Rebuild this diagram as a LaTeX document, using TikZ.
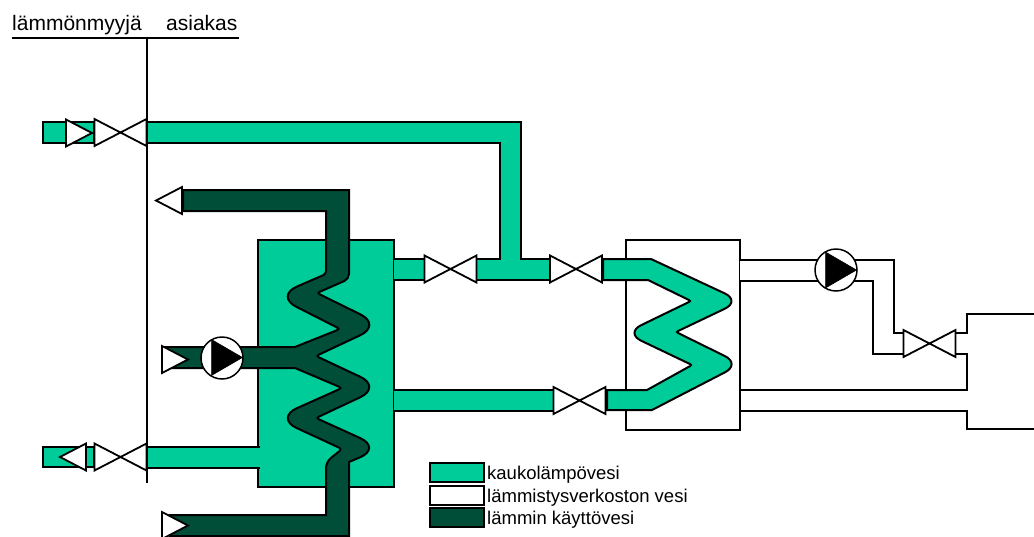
\documentclass[tikz,border=0pt]{standalone}
\usepackage{fontspec}
\setmainfont{Liberation Sans}
\usepackage{xcolor}
\definecolor{hotgreen}{RGB}{0,204,153}
\definecolor{tapgreen}{RGB}{0,77,56}
\usetikzlibrary{shapes.geometric, positioning, calc, backgrounds}
\tikzset{
  valvetri/.style={
    isosceles triangle, isosceles triangle stretches, draw=black, fill=white,
    line width=1.8pt, minimum width=27pt, minimum height=26pt,
    inner sep=0pt, outer sep=0pt
  },
  pumpbody/.style={
    circle, draw=black, fill=white, line width=1.5pt,
    minimum size=42pt, inner sep=0pt, outer sep=0pt
  },
  pumphead/.style={
    isosceles triangle, isosceles triangle stretches, draw=black, fill=black,
    line width=0.5pt, minimum width=36pt, minimum height=31pt,
    inner sep=0pt, outer sep=0pt
  },
  hexbox/.style={
    rectangle, draw=black, line width=2pt, inner sep=0pt, outer sep=0pt
  },
  hotpipe/.style={line width=2pt, double=hotgreen, double distance=19pt},
  coldpipe/.style={line width=2pt, double=white, double distance=19pt},
  wire/.style={line width=2pt, draw=black},
  legendkey/.style={
    rectangle, draw=black, line width=2pt, minimum width=54pt,
    minimum height=19pt, inner sep=0pt, outer sep=0pt
  },
  headtext/.style={font=\fontsize{21}{24}\selectfont, inner sep=0pt, anchor=base west},
  legendtext/.style={
    font=\fontsize{18.5}{20}\selectfont, inner sep=0pt,
    text height=13pt, text depth=4pt, yshift=-2pt
  },
}

\begin{document}
\begin{tikzpicture}[x=1pt, y=-1pt]
  \useasboundingbox (0,0) rectangle (1034,536);

  % valves
  \node (vaa) [valvetri, anchor=apex] at (120.5,132.5) {};
  \node (vab) [valvetri, shape border rotate=180, anchor=apex] at (120.5,132.5) {};
  \node (vba) [valvetri, anchor=apex] at (450.5,269) {};
  \node (vbb) [valvetri, shape border rotate=180, anchor=apex] at (450.5,269) {};
  \node (vca) [valvetri, anchor=apex] at (576,269) {};
  \node (vcb) [valvetri, shape border rotate=180, anchor=apex] at (576,269) {};
  \node (vda) [valvetri, anchor=apex] at (579.5,400.5) {};
  \node (vdb) [valvetri, shape border rotate=180, anchor=apex] at (579.5,400.5) {};
  \node (vea) [valvetri, anchor=apex] at (120.5,457) {};
  \node (veb) [valvetri, shape border rotate=180, anchor=apex] at (120.5,457) {};
  \node (vfa) [valvetri, anchor=apex] at (929.5,343.5) {};
  \node (vfb) [valvetri, shape border rotate=180, anchor=apex] at (929.5,343.5) {};

  % check valves
  \node (caa) [valvetri, anchor=apex] at (92,133) {};
  \node (cab) [valvetri, shape border rotate=180, anchor=apex] at (156,200.5) {};
  \node (cac) [valvetri, anchor=apex] at (188,359.5) {};
  \node (cad) [valvetri, shape border rotate=180, anchor=apex] at (60,457) {};
  \node (cae) [valvetri, anchor=apex] at (188,525.5) {};

  % pumps
  \node (pumpa) [pumpbody] at (222,358) {};
  \node (heada) [pumphead, anchor=apex] at (242.5,357.5) {};
  \node (pumpb) [pumpbody] at (836,270) {};
  \node (headb) [pumphead, anchor=apex] at (856.5,270) {};

  \coordinate (tee) at (510,269);
  \begin{pgfonlayer}{background}
    % exchangers
    \node (hexone) [hexbox, fill=hotgreen, minimum width=136pt, minimum height=247pt] at (326,363.5) {};
    \node (hextwo) [hexbox, fill=white, minimum width=114pt, minimum height=190pt] at (683,335) {};

    % pipes
    \draw [hotpipe] (vab.lower side) -| (tee)
          (vbb.lower side) -- (vca.lower side);
    \draw [hotpipe] (hexone.east |- vba.lower side) -- (vba.lower side);
    \draw [hotpipe] (hexone.east |- vda.lower side) -- (vda.lower side);
    \draw [hotpipe] (veb.lower side) -- ($(hexone.west |- veb.lower side)+(2,0)$);
    \draw [coldpipe] (hextwo.east |- pumpb) -- (883,270) |- (vfa.lower side);

    % stubs
    \draw [wire, fill=hotgreen] (43,122) rectangle (94,143);
    \draw [wire, fill=hotgreen] (43,447) rectangle (94,467);

    % hot water coil
    \draw [wire, fill=hotgreen]
      (603,259) -- (651,259) [rounded corners=18pt] -- (741,301)
      [rounded corners=2pt] -- (676,332) [rounded corners=18pt] -- (741,364)
      [sharp corners] -- (652,410) -- (607,410) -- (607,390) -- (647,390)
      [rounded corners=2pt] -- (692,365) [rounded corners=18pt] -- (625,333)
      [rounded corners=2pt] -- (691,301) [sharp corners] -- (648,280) -- (603,280) -- cycle;

    % tap water coil
    \draw [wire, fill=tapgreen]
      (183,190) -- (349,190) [rounded corners=5pt] -- (349,279)
      [rounded corners=3pt] -- (317,293) [rounded corners=24pt] -- (382,325)
      [rounded corners=3pt] -- (316,356) [rounded corners=24pt] -- (382,387)
      [rounded corners=3pt] -- (316,418) [rounded corners=24pt] -- (382,448)
      [sharp corners] -- (349,462) -- (349,536) -- (170,536) -- (170,515) -- (326,515)
      [rounded corners=6pt] -- (326,462) [rounded corners=3pt] -- (342,449)
      [rounded corners=24pt] -- (275,418) [rounded corners=3pt] -- (342,388)
      [sharp corners] -- (295,368) -- (165,368) -- (165,347) -- (295,347)
      [rounded corners=3pt] -- (340,329) [rounded corners=24pt] -- (275,296)
      [rounded corners=3pt] -- (326,274) [sharp corners] -- (326,211) -- (183,211) -- cycle;
  \end{pgfonlayer}

  % boundary
  \draw [wire] (12,38) -- (239,38);
  \draw [wire] (147,38) -- (147,483);

  % consumer side
  \draw [wire] (956,333) -- (967,333) -- (967,314) -- (1034,314);
  \draw [wire] (956,354) -- (967,354) -- (967,390) -- (hextwo.east |- 0,390);
  \draw [wire] (hextwo.east |- 0,411) -- (967,411) -- (967,429) -- (1034,429);

  % header
  \node (seller) [headtext] at (12,30.5) {lämmönmyyjä};
  \node (client) [headtext] at (166,30.5) {asiakas};

  % legend
  \node (keyhot)  [legendkey, fill=hotgreen] at (457,472.5) {};
  \node (keycold) [legendkey, fill=white, below=4pt of keyhot] {};
  \node (keytap)  [legendkey, fill=tapgreen, below=3pt of keycold] {};
  \node (lblhot)  [legendtext, right=3pt of keyhot] {kaukolämpövesi};
  \node (lblcold) [legendtext, right=3pt of keycold] {lämmistysverkoston vesi};
  \node (lbltap)  [legendtext, right=3pt of keytap] {lämmin käyttövesi};
\end{tikzpicture}
\end{document}
